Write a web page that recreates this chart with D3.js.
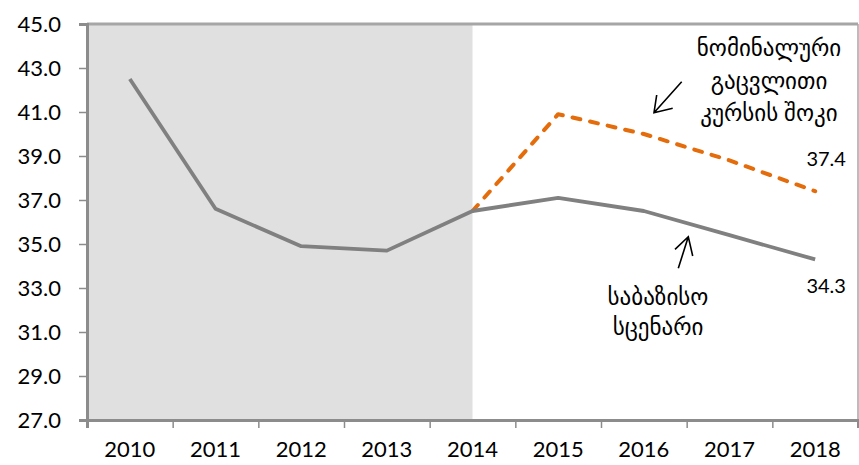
<!DOCTYPE html>
<html><head><meta charset="utf-8">
<script src="https://cdn.jsdelivr.net/npm/d3@7"></script>
<style>
html,body{margin:0;padding:0;background:#fff;}
svg text{font-family:Lato,"DejaVu Sans",sans-serif;}
</style></head>
<body>
<svg id="chart" width="859" height="465"></svg>
<script>
const years = ["2010","2011","2012","2013","2014","2015","2016","2017","2018"];
const baseline = [42.5, 36.6, 34.9, 34.7, 36.5, 37.1, 36.5, 35.4, 34.3];
const shockYears = ["2014","2015","2016","2017","2018"];
const shock = [36.5, 40.9, 40.0, 38.8, 37.4];
const yTicks = [27, 29, 31, 33, 35, 37, 39, 41, 43, 45];
const shadeFrom = "2010", shadeTo = "2014";
const shockLabel = ["ნომინალური", "გაცვლითი", "კურსის შოკი"];
const baseLabel = ["საბაზისო", "სცენარი"];
const endLabels = [{v: 37.4, t: "37.4"}, {v: 34.3, t: "34.3"}];

const svg = d3.select("#chart");
const L = 87, R = 858, T = 24, B = 420;
const x = d3.scaleBand().domain(years).range([L, R]).padding(0);
const xb = d3.scaleLinear().domain([0, years.length]).range([L, R]);
const y = d3.scaleLinear().domain([27, 45]).range([B, T]);
const cx = d => x(d) + x.bandwidth() / 2;

// shaded history area
svg.append("rect")
  .attr("x", L).attr("y", T)
  .attr("width", cx(shadeTo) - L).attr("height", B - T)
  .attr("fill", "#e0e0e0");

// frame
svg.append("line").attr("x1", L).attr("x2", R).attr("y1", T).attr("y2", T)
  .attr("stroke", "#a6a6a6").attr("stroke-width", 3);
svg.append("line").attr("x1", R).attr("x2", R).attr("y1", T).attr("y2", B)
  .attr("stroke", "#a6a6a6").attr("stroke-width", 1.5);

// y axis
const ya = svg.append("g").attr("transform", `translate(${L},0)`)
  .call(d3.axisLeft(y).tickValues(yTicks).tickSize(8).tickPadding(18).tickFormat(d3.format(".1f")));
ya.select(".domain").attr("stroke", "#8c8c8c").attr("stroke-width", 3);
ya.selectAll(".tick line").attr("stroke", "#8c8c8c").attr("stroke-width", 1.5);
ya.selectAll(".tick text").attr("font-size", 22).attr("fill", "#000").attr("font-family", "Lato");

// x axis tick marks at boundaries
const xa = svg.append("g").attr("transform", `translate(0,${B})`)
  .call(d3.axisBottom(xb).ticks(years.length).tickSize(8).tickFormat(""));
xa.select(".domain").attr("stroke", "#8c8c8c").attr("stroke-width", 3);
xa.selectAll(".tick line").attr("stroke", "#8c8c8c").attr("stroke-width", 1.5);
// x labels
const xl = svg.append("g").attr("transform", `translate(0,${B})`)
  .call(d3.axisBottom(x).tickSize(0).tickPadding(21));
xl.select(".domain").remove();
xl.selectAll(".tick text").attr("font-size", 22).attr("fill", "#000").attr("font-family", "Lato");

// lines
const line = d3.line().x(d => cx(d.k)).y(d => y(d.v));
svg.append("path")
  .datum(shockYears.map((k, i) => ({k, v: shock[i]})))
  .attr("d", line).attr("fill", "none")
  .attr("stroke", "#e46c0a").attr("stroke-width", 4)
  .attr("stroke-dasharray", "8,10").attr("stroke-linecap", "round").attr("stroke-linejoin", "round");
svg.append("path")
  .datum(years.map((k, i) => ({k, v: baseline[i]})))
  .attr("d", line).attr("fill", "none")
  .attr("stroke", "#808080").attr("stroke-width", 3.8).attr("stroke-linejoin", "round");

// end labels
svg.selectAll(".endlab").data(endLabels).enter().append("text")
  .attr("x", cx("2018") + 11).attr("y", (d, i) => y(d.v) + (i === 0 ? -25 : 34))
  .attr("text-anchor", "middle").attr("font-size", 20).attr("fill", "#000")
  .attr("font-family", "Lato").text(d => d.t);

// annotations
const g1 = svg.append("text").attr("text-anchor", "middle").attr("font-size", 23)
  .attr("font-family", "DejaVu Sans").attr("fill", "#000");
shockLabel.forEach((t, i) => g1.append("tspan").attr("x", 769).attr("y", 56 + i * 32.5).text(t));
const g2 = svg.append("text").attr("text-anchor", "middle").attr("font-size", 23)
  .attr("font-family", "DejaVu Sans").attr("fill", "#000");
baseLabel.forEach((t, i) => g2.append("tspan").attr("x", 658).attr("y", 305 + i * 30).text(t));

// arrows
const arrow = (x1, y1, x2, y2, ha, hb) => {
  const p = d3.path();
  p.moveTo(x1, y1); p.lineTo(x2, y2);
  p.moveTo(ha[0], ha[1]); p.lineTo(x2, y2); p.lineTo(hb[0], hb[1]);
  svg.append("path").attr("d", p.toString()).attr("fill", "none")
    .attr("stroke", "#000").attr("stroke-width", 1.6);
};
arrow(681.7, 81.7, 654, 112.7, [656.7, 95], [672.7, 108.3]);
arrow(678.3, 268.3, 688.3, 236.7, [675, 249.3], [692.7, 256]);
</script>
</body></html>
